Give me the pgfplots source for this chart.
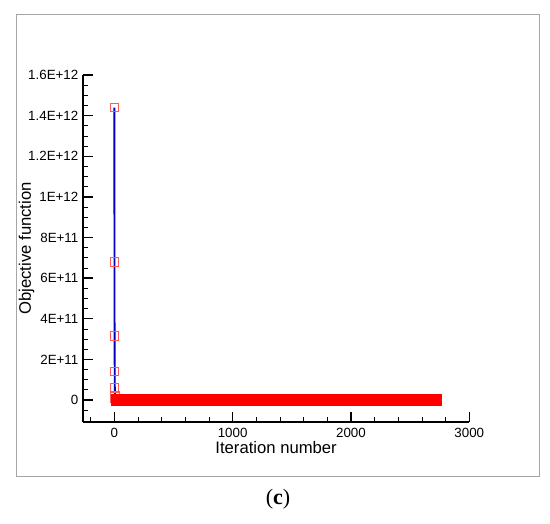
\documentclass[border=0pt]{standalone}
\usepackage{pgfplots}
\pgfplotsset{compat=1.18}
\usepackage{fontspec}
\setmainfont{Liberation Sans}
\newfontfamily\capfont{Liberation Serif}

% objective function history (start of the run)
\pgfplotstableread{
it    obj
0     1.44e12
1     6.80e11
2     3.15e11
3     1.39e11
4     5.90e10
5     2.00e10
6     8.00e9
8     3.00e9
10    1.00e9
}\headdata

\begin{document}
\begin{tikzpicture}
\useasboundingbox (0pt,0pt) rectangle (412.5pt,393pt);
\draw[gray!70, line width=0.8pt] (12.5pt,35.4pt) rectangle (404.8pt,381.8pt);
\node[font=\capfont\fontsize{16.5}{18}\selectfont] at (208.5pt,18.7pt) {(\textbf{c})};
\begin{axis}[
    at={(62.25pt,76.7pt)}, anchor=south west,
    scale only axis,
    width=289.7pt, height=260pt,
    xmin=-265, xmax=3000,
    ymin=-1.07e11, ymax=1.6e12,
    axis x line=bottom, axis y line=left,
    axis line style={-, line width=1.8pt},
    tick align=inside,
    major tick length=7.5pt, minor tick length=3.8pt,
    every tick/.style={black, line width=1.1pt},
    minor tick style={line width=0.6pt},
    xtick={0,1000,2000,3000},
    minor xtick={-200,200,400,600,800,1200,1400,1600,1800,2200,2400,2600,2800},
    ytick={0,2e11,4e11,6e11,8e11,1e12,1.2e12,1.4e12,1.6e12},
    yticklabels={0,2E+11,4E+11,6E+11,8E+11,1E+12,1.2E+12,1.4E+12,1.6E+12},
    minor ytick={-5e10,5e10,1e11,1.5e11,2.5e11,3e11,3.5e11,4.5e11,5e11,5.5e11,6.5e11,7e11,7.5e11,8.5e11,9e11,9.5e11,1.05e12,1.1e12,1.15e12,1.25e12,1.3e12,1.35e12,1.45e12,1.5e12,1.55e12},
    scaled y ticks=false,
    tick label style={font=\fontsize{10}{12}\selectfont},
    /pgf/number format/assume math mode=true,
    /pgf/number format/set thousands separator={},
    xticklabel style={yshift=-1pt},
    xlabel={Iteration number},
    ylabel={Objective function},
    label style={font=\fontsize{12.5}{14}\selectfont},
    xlabel style={yshift=4pt},
    ylabel style={yshift=-11.5pt},
    clip=false,
]
% blue history line
\addplot[blue!75!black, line width=1.4pt] table[x=it, y=obj] {\headdata};
% open markers on the first iterations
\addplot[only marks, red!65, mark=square, mark size=3.1pt,
         mark options={draw=red!65, line width=0.7pt}] table[x=it, y=obj] {\headdata};
% converged part, many iterations near zero
\addplot[only marks, mark=square*, mark size=4pt, red,
         mark options={fill=red, draw=red, line width=0.4pt}] coordinates {
 (15,0) (35,0) (55,0) (75,0) (95,0) (115,0) (135,0) (155,0) (175,0) (195,0)
 (215,0) (235,0) (255,0) (275,0) (295,0) (315,0) (335,0) (355,0) (375,0) (395,0)
 (415,0) (435,0) (455,0) (475,0) (495,0) (515,0) (535,0) (555,0) (575,0) (595,0)
 (615,0) (635,0) (655,0) (675,0) (695,0) (715,0) (735,0) (755,0) (775,0) (795,0)
 (815,0) (835,0) (855,0) (875,0) (895,0) (915,0) (935,0) (955,0) (975,0) (995,0)
 (1015,0) (1035,0) (1055,0) (1075,0) (1095,0) (1115,0) (1135,0) (1155,0) (1175,0) (1195,0)
 (1215,0) (1235,0) (1255,0) (1275,0) (1295,0) (1315,0) (1335,0) (1355,0) (1375,0) (1395,0)
 (1415,0) (1435,0) (1455,0) (1475,0) (1495,0) (1515,0) (1535,0) (1555,0) (1575,0) (1595,0)
 (1615,0) (1635,0) (1655,0) (1675,0) (1695,0) (1715,0) (1735,0) (1755,0) (1775,0) (1795,0)
 (1815,0) (1835,0) (1855,0) (1875,0) (1895,0) (1915,0) (1935,0) (1955,0) (1975,0) (1995,0)
 (2015,0) (2035,0) (2055,0) (2075,0) (2095,0) (2115,0) (2135,0) (2155,0) (2175,0) (2195,0)
 (2215,0) (2235,0) (2255,0) (2275,0) (2295,0) (2315,0) (2335,0) (2355,0) (2375,0) (2395,0)
 (2415,0) (2435,0) (2455,0) (2475,0) (2495,0) (2515,0) (2535,0) (2555,0) (2575,0) (2595,0)
 (2615,0) (2635,0) (2655,0) (2675,0) (2695,0) (2715,0)
};
\end{axis}
\end{tikzpicture}
\end{document}
